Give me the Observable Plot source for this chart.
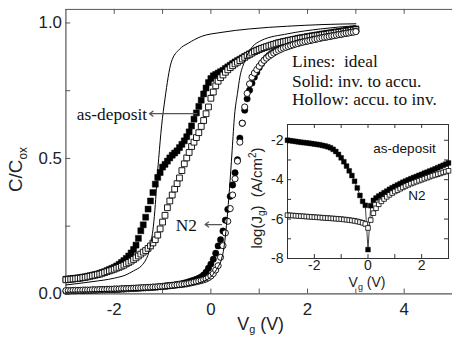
<!DOCTYPE html>
<html><head><meta charset="utf-8">
<script src="https://cdn.jsdelivr.net/npm/d3@7"></script>
<script src="https://cdn.jsdelivr.net/npm/@observablehq/plot@0.6"></script>
<style>
html,body{margin:0;padding:0;background:#fff;overflow:hidden;}
#wrap{position:relative;width:452px;height:341px;overflow:hidden;background:#fff;}
#main{position:absolute;left:0;top:0;}
#inset{position:absolute;left:240px;top:118px;}
</style></head><body><div id="wrap"><div id="main"></div><div id="inset"></div></div>
<script>
// ---------- main C-V data (gate voltage sweep, V) ----------
const cvVoltage = [-3,-2.95,-2.9,-2.85,-2.8,-2.75,-2.7,-2.65,-2.6,-2.55,-2.5,-2.45,-2.4,-2.35,-2.3,-2.25,-2.2,-2.15,-2.1,-2.05,
-2,-1.95,-1.9,-1.85,-1.8,-1.75,-1.7,-1.65,-1.6,-1.55,-1.5,-1.45,-1.4,-1.35,-1.3,-1.25,-1.2,-1.15,-1.1,-1.05,
-1,-0.95,-0.9,-0.85,-0.8,-0.75,-0.7,-0.65,-0.6,-0.55,-0.5,-0.45,-0.4,-0.35,-0.3,-0.25,-0.2,-0.15,-0.1,-0.05,
0,0.05,0.1,0.15,0.2,0.25,0.3,0.35,0.4,0.45,0.5,0.55,0.6,0.65,0.7,0.75,0.8,0.85,0.9,0.95,
1,1.05,1.1,1.15,1.2,1.25,1.3,1.35,1.4,1.45,1.5,1.55,1.6,1.65,1.7,1.75,1.8,1.85,1.9,1.95,
2,2.05,2.1,2.15,2.2,2.25,2.3,2.35,2.4,2.45,2.5,2.55,2.6,2.65,2.7,2.75,2.8,2.85,2.9,2.95,3];

// as-deposit, solid squares (inv. to accu.)
const asDepSolid = [0.054,0.055,0.056,0.057,0.058,0.059,0.060,0.062,0.063,0.065,
0.067,0.069,0.071,0.073,0.076,0.079,0.082,0.086,0.090,0.094,
0.098,0.103,0.109,0.116,0.123,0.131,0.140,0.151,0.164,0.180,
0.205,0.233,0.255,0.283,0.313,0.343,0.374,0.405,0.430,0.448,
0.468,0.478,0.490,0.502,0.512,0.520,0.528,0.540,0.552,0.565,
0.580,0.598,0.620,0.645,0.668,0.692,0.715,0.738,0.760,0.780,
0.795,0.805,0.810,0.815,0.820,0.825,0.832,0.838,0.844,0.850,
0.856,0.861,0.866,0.871,0.876,0.881,0.886,0.890,0.895,0.899,
0.903,0.906,0.909,0.912,0.915,0.918,0.921,0.924,0.927,0.929,
0.931,0.933,0.935,0.937,0.939,0.941,0.943,0.945,0.946,0.948,
0.950,0.951,0.953,0.954,0.956,0.957,0.959,0.960,0.962,0.963,
0.964,0.966,0.967,0.968,0.970,0.971,0.972,0.974,0.975,0.977,0.978];

// as-deposit, hollow squares (accu. to inv.)
const asDepHollow = [0.052,0.053,0.054,0.055,0.056,0.057,0.058,0.060,0.061,0.063,
0.065,0.067,0.069,0.071,0.073,0.076,0.079,0.082,0.085,0.088,
0.091,0.095,0.098,0.102,0.106,0.111,0.116,0.121,0.127,0.133,
0.140,0.147,0.154,0.160,0.168,0.177,0.188,0.200,0.217,0.240,
0.265,0.290,0.318,0.343,0.365,0.387,0.407,0.428,0.455,0.480,
0.502,0.522,0.544,0.560,0.577,0.595,0.618,0.640,0.665,0.690,
0.722,0.745,0.768,0.785,0.798,0.808,0.818,0.827,0.835,0.842,
0.849,0.855,0.861,0.867,0.873,0.879,0.884,0.889,0.894,0.898,
0.902,0.906,0.909,0.912,0.915,0.918,0.921,0.923,0.926,0.928,
0.930,0.932,0.934,0.936,0.938,0.939,0.941,0.943,0.944,0.946,
0.947,0.949,0.950,0.952,0.953,0.954,0.956,0.957,0.958,0.960,
0.961,0.962,0.964,0.965,0.966,0.968,0.969,0.970,0.972,0.973,0.975];

// N2, solid circles (inv. to accu.)
const n2Solid = [0.010,0.010,0.011,0.011,0.011,0.012,0.012,0.012,0.013,0.013,
0.013,0.014,0.014,0.014,0.015,0.015,0.015,0.016,0.016,0.016,
0.017,0.017,0.017,0.018,0.018,0.019,0.019,0.020,0.020,0.021,
0.021,0.022,0.022,0.023,0.023,0.024,0.025,0.025,0.026,0.027,
0.028,0.029,0.030,0.031,0.032,0.033,0.035,0.036,0.038,0.040,
0.042,0.045,0.048,0.051,0.054,0.058,0.063,0.070,0.080,0.095,
0.110,0.128,0.150,0.177,0.200,0.232,0.272,0.312,0.360,0.402,
0.447,0.495,0.575,0.630,0.678,0.720,0.752,0.778,0.800,0.818,
0.836,0.850,0.862,0.872,0.880,0.887,0.892,0.897,0.901,0.905,
0.909,0.912,0.915,0.918,0.921,0.923,0.926,0.928,0.930,0.932,
0.934,0.936,0.938,0.940,0.942,0.944,0.946,0.947,0.949,0.951,
0.952,0.954,0.956,0.957,0.959,0.961,0.962,0.964,0.966,0.967,0.969];

// N2, hollow circles (accu. to inv.)
const n2Hollow = [0.012,0.012,0.012,0.013,0.013,0.013,0.013,0.014,0.014,0.014,
0.014,0.015,0.015,0.015,0.016,0.016,0.016,0.017,0.017,0.017,
0.018,0.018,0.018,0.019,0.019,0.019,0.020,0.020,0.021,0.021,
0.022,0.022,0.023,0.023,0.024,0.024,0.025,0.025,0.026,0.027,
0.027,0.028,0.029,0.030,0.031,0.032,0.033,0.034,0.035,0.036,
0.037,0.039,0.041,0.043,0.045,0.047,0.049,0.052,0.055,0.060,
0.066,0.075,0.088,0.104,0.135,0.178,0.225,0.268,0.315,0.365,
0.425,0.490,0.560,0.630,0.690,0.740,0.775,0.800,0.815,0.828,
0.840,0.852,0.862,0.870,0.877,0.883,0.889,0.894,0.899,0.903,
0.907,0.910,0.913,0.916,0.919,0.922,0.924,0.927,0.929,0.931,
0.933,0.935,0.937,0.939,0.941,0.943,0.945,0.947,0.948,0.950,
0.952,0.953,0.955,0.957,0.958,0.960,0.962,0.963,0.965,0.966,0.968];

// ideal curves (lines)
const idealAsDepV = [-3,-2.46,-2,-1.76,-1.6,-1.43,-1.35,-1.29,-1.23,-1.19,-1.15,-1.12,-1.08,-1.02,-0.95,-0.82,-0.65,-0.47,-0.2,0.21,0.8,1.59,2.3,3];
const idealAsDepC = [0.033,0.045,0.058,0.07,0.085,0.105,0.125,0.15,0.2,0.25,0.33,0.41,0.5,0.62,0.72,0.855,0.903,0.925,0.95,0.965,0.978,0.988,0.994,0.997];
const idealN2V = [-3,-2,-1,-0.47,-0.2,0,0.08,0.15,0.22,0.27,0.31,0.36,0.41,0.44,0.49,0.55,0.6,0.68,0.77,1.04,1.59,2.27,3];
const idealN2C = [0.006,0.01,0.018,0.03,0.043,0.063,0.08,0.1,0.128,0.17,0.23,0.33,0.45,0.53,0.66,0.74,0.8,0.85,0.888,0.935,0.96,0.978,0.99];

// main axes ticks
const mainXLabels = [-2,0,2,4];
const mainXMinor = [-2,-1,0,1,2,3,4];
const mainYLabels = [0,0.5,1.0];
const mainYMinor = [0.25,0.5,0.75,1.0];

// ---------- inset J-V data ----------
const jvVoltage = [-3,-2.9,-2.8,-2.7,-2.6,-2.5,-2.4,-2.3,-2.2,-2.1,-2,-1.9,-1.8,-1.7,-1.6,-1.5,-1.4,-1.3,-1.2,-1.1,
-1,-0.9,-0.8,-0.7,-0.6,-0.5,-0.4,-0.3,-0.2,-0.1,0,0.1,0.2,0.3,0.4,0.5,0.6,0.7,0.8,0.9,
1,1.1,1.2,1.3,1.4,1.5,1.6,1.7,1.8,1.9,2,2.1,2.2,2.3,2.4,2.5,2.6,2.7,2.8,2.9,3];
const asDepLogJ = [-2.00,-2.02,-2.04,-2.06,-2.08,-2.10,-2.12,-2.13,-2.15,-2.17,
-2.19,-2.21,-2.23,-2.26,-2.29,-2.33,-2.38,-2.46,-2.57,-2.72,
-2.89,-3.09,-3.31,-3.55,-3.79,-4.08,-4.42,-4.80,-5.10,-5.30,
-7.55,
-5.32,-5.05,-4.93,-4.83,-4.75,-4.66,-4.58,-4.49,-4.41,-4.34,
-4.27,-4.20,-4.13,-4.07,-4.01,-3.95,-3.89,-3.84,-3.78,-3.73,
-3.67,-3.62,-3.56,-3.51,-3.45,-3.39,-3.33,-3.27,-3.21,-3.15];
const n2LogJ = [-5.80,-5.81,-5.82,-5.83,-5.84,-5.85,-5.86,-5.87,-5.88,-5.89,
-5.90,-5.91,-5.92,-5.93,-5.94,-5.95,-5.96,-5.97,-5.98,-5.99,
-6.00,-6.02,-6.03,-6.05,-6.07,-6.09,-6.12,-6.15,-6.19,-6.25,
-6.45,
-6.05,-5.70,-5.45,-5.25,-5.10,-4.98,-4.87,-4.77,-4.68,-4.60,
-4.53,-4.46,-4.39,-4.32,-4.26,-4.20,-4.15,-4.10,-4.05,-4.00,
-3.95,-3.90,-3.85,-3.80,-3.76,-3.72,-3.68,-3.63,-3.59,-3.55];
const insetXLabels = [-2,0,2];
const insetXMinor = [-2,-1,0,1,2];
const insetYLabels = [-2,-4,-6,-8];
const insetYMinor = [-2,-3,-4,-5,-6,-7];

// annotations (data coordinates)
const legendLines = [
  {t: "Lines:\u00a0 ideal", x: 1.68, y: 0.859},
  {t: "Solid: inv. to accu.", x: 1.68, y: 0.786},
  {t: "Hollow: accu. to inv.", x: 1.68, y: 0.717}
];
const mainLabels = [
  {t: "as-deposit", x: -1.32, y: 0.662},
  {t: "N2", x: -0.29, y: 0.251}
];
const mainArrows = [
  {x1: -0.29, y1: 0.665, x2: -1.27, y2: 0.665},
  {x1: 0.22, y1: 0.256, x2: -0.12, y2: 0.256}
];
const insetLabels = [
  {t: "as-deposit", x: 1.36, y: -2.42},
  {t: "N2", x: 1.82, y: -4.8}
];

// ---------- build tables ----------
const tbl = (xs, ys) => xs.map((v, i) => ({v, c: ys[i]}));
const A = tbl(cvVoltage, asDepSolid), B = tbl(cvVoltage, asDepHollow);
const C = tbl(cvVoltage, n2Solid), D = tbl(cvVoltage, n2Hollow);
const L1 = tbl(idealAsDepV, idealAsDepC), L2 = tbl(idealN2V, idealN2C);
const E = tbl(jvVoltage, asDepLogJ), F = tbl(jvVoltage, n2LogJ);

const axisColor = "#555";
const sans = "'Liberation Sans', Arial, sans-serif";
const serif = "'Liberation Serif', 'Times New Roman', serif";

const main = Plot.plot({
  width: 456, height: 341,
  marginLeft: 66, marginRight: 0, marginTop: 9, marginBottom: 45,
  x: {domain: [-3, 5]},
  y: {domain: [0, 1.05]},
  style: {fontFamily: sans, fontSize: "17px", background: "transparent", color: "#222"},
  marks: [
    Plot.ruleY([0], {stroke: axisColor, strokeWidth: 1.4}),
    Plot.ruleY([1.05], {stroke: axisColor, strokeWidth: 1}),
    Plot.ruleX([-3], {stroke: axisColor, strokeWidth: 1.2}),
    Plot.ruleX(mainXMinor, {y1: 0, y2: 0.018, stroke: axisColor}),
    Plot.ruleX(mainXMinor, {y1: 1.05, y2: 1.032, stroke: axisColor}),
    Plot.ruleY(mainYMinor, {x1: -3, x2: -2.9, stroke: axisColor}),
    Plot.axisX({ticks: mainXLabels, tickSize: 0, tickPadding: 9, tickFormat: d => String(d), label: null, fontSize: 17}),
    Plot.axisY({ticks: mainYLabels, tickSize: 0, tickPadding: 4, tickFormat: d => d.toFixed(1), label: null, fontSize: 17}),
    Plot.dot(A, {x: "v", y: "c", symbol: "square", r: 3.4, fill: "black", stroke: "black", strokeWidth: 0.5}),
    Plot.dot(B, {x: "v", y: "c", symbol: "square", r: 3.3, fill: "white", stroke: "black", strokeWidth: 0.9}),
    Plot.dot(C, {x: "v", y: "c", symbol: "circle", r: 3.2, fill: "black", stroke: "black", strokeWidth: 0.5}),
    Plot.dot(D, {x: "v", y: "c", symbol: "circle", r: 3.1, fill: "white", stroke: "black", strokeWidth: 0.9}),
    Plot.line(L1, {x: "v", y: "c", curve: "monotone-x", stroke: "black", strokeWidth: 1}),
    Plot.line(L2, {x: "v", y: "c", curve: "monotone-x", stroke: "black", strokeWidth: 1}),
    Plot.text(legendLines, {x: "x", y: "y", text: "t", textAnchor: "start", fontFamily: serif, fontSize: 17.5, fill: "#111"}),
    Plot.text(mainLabels, {x: "x", y: "y", text: "t", textAnchor: "end", fontFamily: serif, fontSize: 17.5, fill: "#111"}),
    Plot.arrow(mainArrows, {x1: "x1", y1: "y1", x2: "x2", y2: "y2", stroke: axisColor, strokeWidth: 1.3, headLength: 5, headAngle: 70})
  ]
});
document.getElementById("main").appendChild(main);

const ms = d3.select(main);
// y title: C/C_ox
const yt = ms.append("text").attr("transform", "translate(22,171) rotate(-90)")
  .attr("text-anchor", "middle").attr("font-family", sans).attr("font-size", 19).attr("fill", "#222");
yt.append("tspan").text("C/C");
yt.append("tspan").attr("font-size", 12).attr("dy", 5).text("ox");
// x title: V_g (V)
const xt = ms.append("text").attr("x", 263).attr("y", 333)
  .attr("text-anchor", "middle").attr("font-family", sans).attr("font-size", 18).attr("fill", "#222");
xt.append("tspan").text("V");
xt.append("tspan").attr("font-size", 11).attr("dy", 3).text("g");
xt.append("tspan").attr("dy", -3).text("\u00a0(V)");

const inset = Plot.plot({
  width: 212, height: 180,
  marginLeft: 47, marginRight: 4, marginTop: 6, marginBottom: 40,
  x: {domain: [-3, 3]},
  y: {domain: [-8, -1.2]},
  style: {fontFamily: sans, fontSize: "14px", background: "transparent", color: "#222"},
  marks: [
    Plot.frame({stroke: "#333", strokeWidth: 1}),
    Plot.ruleX(insetXMinor, {y1: -8, y2: -7.8, stroke: "#333"}),
    Plot.ruleX(insetXMinor, {y1: -1.2, y2: -1.4, stroke: "#333"}),
    Plot.ruleY(insetYMinor, {x1: -3, x2: -2.85, stroke: "#333"}),
    Plot.ruleY(insetYMinor, {x1: 3, x2: 2.85, stroke: "#333"}),
    Plot.axisX({ticks: insetXLabels, tickSize: 0, tickPadding: 2, tickFormat: d => String(d), label: null, fontSize: 14}),
    Plot.axisY({ticks: insetYLabels, tickSize: 0, tickPadding: 4, tickFormat: d => String(d), label: null, fontSize: 14}),
    Plot.line(E, {x: "v", y: "c", stroke: "#444", strokeWidth: 1}),
    Plot.line(F, {x: "v", y: "c", stroke: "#444", strokeWidth: 1}),
    Plot.dot(E, {x: "v", y: "c", symbol: "square", r: 2.7, fill: "black", stroke: "black", strokeWidth: 0.4}),
    Plot.dot(F, {x: "v", y: "c", symbol: "square", r: 2.6, fill: "white", stroke: "black", strokeWidth: 0.8}),
    Plot.text(insetLabels, {x: "x", y: "y", text: "t", fontFamily: sans, fontSize: 13.5, fill: "#111"})
  ]
});
document.getElementById("inset").appendChild(inset);
const is = d3.select(inset);
const ixt = is.append("text").attr("x", 127).attr("y", 169)
  .attr("text-anchor", "middle").attr("font-family", sans).attr("font-size", 14).attr("fill", "#222");
ixt.append("tspan").text("V");
ixt.append("tspan").attr("font-size", 9).attr("dy", 3).text("g");
ixt.append("tspan").attr("dy", -3).text("\u00a0(V)");
const iyt = is.append("text").attr("transform", "translate(22,80) rotate(-90)")
  .attr("text-anchor", "middle").attr("font-family", sans).attr("font-size", 15).attr("fill", "#222");
iyt.append("tspan").text("log(J");
iyt.append("tspan").attr("font-size", 10).attr("dy", 3).text("g");
iyt.append("tspan").attr("dy", -3).text(")\u00a0 (A/cm");
iyt.append("tspan").attr("font-size", 10).attr("dy", -6).text("2");
iyt.append("tspan").attr("dy", 6).text(")");
</script></body></html>
